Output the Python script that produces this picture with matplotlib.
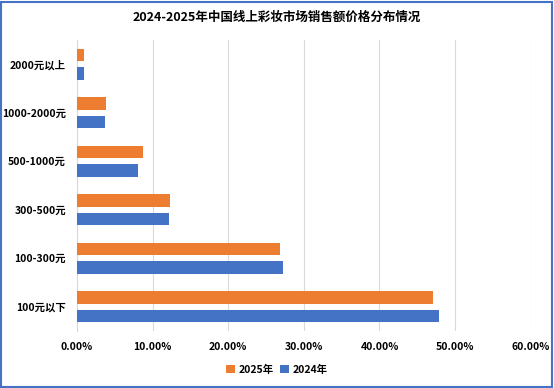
import numpy as np
import matplotlib.pyplot as plt
from matplotlib.patches import Rectangle
from matplotlib.ticker import FuncFormatter

plt.rcParams['font.family'] = ['Noto Sans CJK SC', 'DejaVu Sans']

# 价格区间（自上而下）
categories = ['2000元以上', '1000-2000元', '500-1000元', '300-500元', '100-300元', '100元以下']
share_2025 = [0.9, 3.9, 8.7, 12.3, 26.9, 47.1]
share_2024 = [0.9, 3.7, 8.0, 12.1, 27.3, 47.9]

c_2025 = '#ED7D31'
c_2024 = '#4472C4'

fig = plt.figure(figsize=(5.54, 3.88), dpi=100)
ax = fig.add_axes([0.139, 0.147, 0.819, 0.75])

y = np.arange(len(categories))
ax.barh(y - 0.19, share_2025, height=0.26, color=c_2025, label='2025年', zorder=3)
ax.barh(y + 0.19, share_2024, height=0.26, color=c_2024, label='2024年', zorder=3)

ax.set_ylim(5.5, -0.5)
ax.set_xlim(0, 60)
ax.set_xticks(np.arange(0, 61, 10))
ax.xaxis.set_major_formatter(FuncFormatter(lambda v, p: f'{v:.2f}%'))
ax.set_yticks(y)
ax.set_yticklabels(categories)

for lab in ax.get_xticklabels() + ax.get_yticklabels():
    lab.set_fontsize(7.5)
    lab.set_fontweight('bold')

ax.grid(axis='x', color='#D9D9D9', linewidth=0.8, zorder=0)
for s in ['top', 'right', 'bottom']:
    ax.spines[s].set_visible(False)
ax.spines['left'].set_color('#D9D9D9')
ax.tick_params(length=0, pad=8)

fig.text(0.5, 0.955, '2024-2025年中国线上彩妆市场销售额价格分布情况',
         ha='center', va='center', fontsize=9, fontweight='bold')

fig.legend(loc='center', bbox_to_anchor=(0.5, 0.047), ncol=2, frameon=False,
           prop={'size': 7.5, 'weight': 'bold'}, handlelength=0.8, handleheight=0.8,
           columnspacing=0.6, handletextpad=0.4)

fig.patches.append(Rectangle((0.002, 0.003), 0.995, 0.993, transform=fig.transFigure,
                             fill=False, edgecolor=c_2024, linewidth=1.5))

fig.savefig('out.png', dpi=100)
